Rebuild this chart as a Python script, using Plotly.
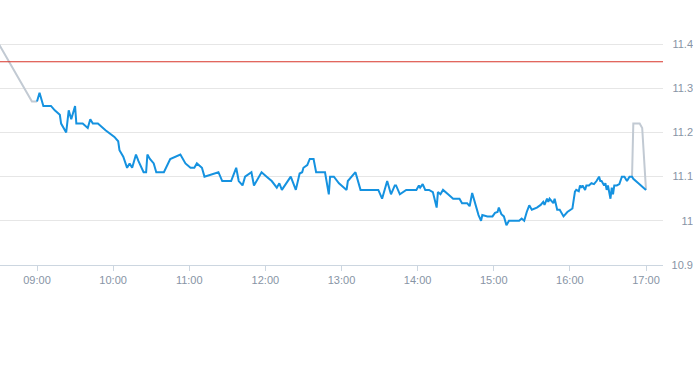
import plotly.graph_objects as go
import pandas as pd

DAY = "2024-01-02 "

# Pre-open (grey) segment
pre_times = ["08:30", "08:56", "09:00"]
pre_values = [11.40, 11.27, 11.27]

# Main trading session (blue)
main_times = [
    "09:00", "09:02", "09:05", "09:11", "09:14", "09:18", "09:19", "09:23", "09:25", "09:27",
    "09:30", "09:31", "09:36", "09:40", "09:42", "09:44", "09:48", "09:54", "10:01", "10:04",
    "10:05", "10:08", "10:11", "10:13", "10:15", "10:18", "10:20", "10:24", "10:26", "10:27",
    "10:29", "10:32", "10:34", "10:40", "10:45", "10:49", "10:53", "10:57", "11:01", "11:04",
    "11:06", "11:10", "11:12", "11:23", "11:26", "11:33", "11:37", "11:39", "11:42", "11:44",
    "11:49", "11:51", "11:57", "12:01", "12:05", "12:09", "12:11", "12:13", "12:20", "12:24",
    "12:27", "12:29", "12:30", "12:33", "12:35", "12:38", "12:40", "12:47", "12:50", "12:51",
    "12:54", "12:58", "13:04", "13:05", "13:11", "13:15", "13:29", "13:32", "13:36", "13:39",
    "13:42", "13:43", "13:46", "13:51", "13:59", "14:01", "14:02", "14:04", "14:06", "14:09",
    "14:12", "14:15", "14:16", "14:18", "14:20", "14:24", "14:28", "14:33", "14:35", "14:39",
    "14:41", "14:43", "14:46", "14:48", "14:50", "14:51", "14:55", "14:59", "15:01", "15:03",
    "15:04", "15:06", "15:08", "15:10", "15:12", "15:17", "15:20", "15:22", "15:24", "15:26",
    "15:28", "15:30", "15:34", "15:37", "15:39", "15:40", "15:42", "15:43", "15:44", "15:47",
    "15:48", "15:50", "15:52", "15:55", "15:58", "16:02", "16:03", "16:04", "16:05", "16:07",
    "16:08", "16:09", "16:10", "16:12", "16:13", "16:15", "16:17", "16:19", "16:21", "16:23",
    "16:24", "16:25", "16:27", "16:28", "16:29", "16:30", "16:32", "16:33", "16:34", "16:35",
    "16:37", "16:39", "16:41", "16:43", "16:45", "16:47", "16:49", "16:50", "16:54", "17:00",
]
main_values = [
    11.27, 11.29, 11.26, 11.26, 11.25, 11.24, 11.22, 11.20, 11.25, 11.23,
    11.26, 11.22, 11.22, 11.21, 11.23, 11.22, 11.22, 11.205, 11.19, 11.18,
    11.16, 11.145, 11.12, 11.13, 11.12, 11.15, 11.135, 11.11, 11.11, 11.15,
    11.14, 11.13, 11.11, 11.11, 11.14, 11.145, 11.15, 11.13, 11.12, 11.12,
    11.13, 11.12, 11.10, 11.11, 11.09, 11.09, 11.12, 11.09, 11.08, 11.10,
    11.11, 11.08, 11.11, 11.10, 11.09, 11.075, 11.085, 11.07, 11.10, 11.07,
    11.107, 11.11, 11.12, 11.126, 11.14, 11.14, 11.11, 11.11, 11.06, 11.10,
    11.10, 11.085, 11.07, 11.09, 11.11, 11.07, 11.07, 11.05, 11.09, 11.06,
    11.08, 11.08, 11.06, 11.07, 11.07, 11.08, 11.075, 11.083, 11.07, 11.07,
    11.065, 11.03, 11.065, 11.06, 11.07, 11.06, 11.05, 11.05, 11.04, 11.04,
    11.033, 11.063, 11.03, 11.013, 11.00, 11.013, 11.01, 11.01, 11.018, 11.02,
    11.03, 11.015, 11.01, 10.99, 11.00, 11.00, 11.00, 11.005, 11.00, 11.02,
    11.035, 11.025, 11.03, 11.036, 11.043, 11.036, 11.05, 11.043, 11.05, 11.04,
    11.05, 11.025, 11.025, 11.01, 11.02, 11.028, 11.047, 11.066, 11.07, 11.067,
    11.08, 11.075, 11.08, 11.07, 11.08, 11.08, 11.085, 11.083, 11.09, 11.10,
    11.09, 11.09, 11.08, 11.085, 11.07, 11.08, 11.05, 11.075, 11.06, 11.08,
    11.08, 11.083, 11.10, 11.10, 11.09, 11.10, 11.10, 11.095, 11.085, 11.07,
]

# Closing auction (grey) segment
post_times = ["16:49", "16:50", "16:55", "16:57", "17:00"]
post_values = [11.10, 11.22, 11.22, 11.21, 11.07]

ref_price = 11.36

y_ticks = [10.9, 11.0, 11.1, 11.2, 11.3, 11.4]
y_tick_labels = ["10.9", "11", "11.1", "11.2", "11.3", "11.4"]
x_tick_times = ["09:00", "10:00", "11:00", "12:00", "13:00", "14:00", "15:00", "16:00", "17:00"]
x_tick_labels = ["09:00", "10:00", "11:00", "12:00", "13:00", "14:00", "15:00", "16:00", "17:00"]
x_range = ["08:30:50", "17:13:24"]
y_range = [10.9, 11.45]


def ts(lst):
    return pd.to_datetime([DAY + t for t in lst])


GREY = "#c2cad3"
BLUE = "#1592e0"
LABEL = "#8794a5"
FONT = "Liberation Sans, Arial, sans-serif"

fig = go.Figure()
fig.add_trace(go.Scatter(x=ts(pre_times), y=pre_values, mode="lines",
                         line=dict(color=GREY, width=2), hoverinfo="skip"))
fig.add_trace(go.Scatter(x=ts(post_times), y=post_values, mode="lines",
                         line=dict(color=GREY, width=2), hoverinfo="skip"))
fig.add_trace(go.Scatter(x=ts(main_times), y=main_values, mode="lines",
                         line=dict(color=BLUE, width=2), hoverinfo="skip"))
fig.add_hline(y=ref_price, line=dict(color="#d8352a", width=1))

fig.update_layout(
    width=693, height=365,
    margin=dict(l=0, r=0, t=22, b=100),
    paper_bgcolor="white", plot_bgcolor="white",
    showlegend=False,
    font=dict(family=FONT, size=11, color=LABEL),
    xaxis=dict(
        domain=[0, 663 / 693],
        type="date",
        range=[DAY + x_range[0], DAY + x_range[1]],
        tickvals=ts(x_tick_times), ticktext=x_tick_labels,
        showgrid=False, zeroline=False,
        showline=True, linecolor="#ccd6e0", linewidth=1,
        ticks="outside", ticklen=5, tickcolor="#ccd6e0",
        tickfont=dict(family=FONT, size=11, color=LABEL),
        automargin=False,
    ),
    yaxis=dict(
        range=y_range,
        tickvals=y_ticks, ticktext=y_tick_labels,
        anchor="free", position=1, side="left",
        showgrid=True, gridcolor="#e6e6e6", gridwidth=1,
        zeroline=False, showline=False, ticks="",
        tickfont=dict(family=FONT, size=11, color=LABEL),
        automargin=False,
    ),
)

fig.write_html("out.html", config={"displayModeBar": False},
               post_script="document.body.style.margin='0';")
